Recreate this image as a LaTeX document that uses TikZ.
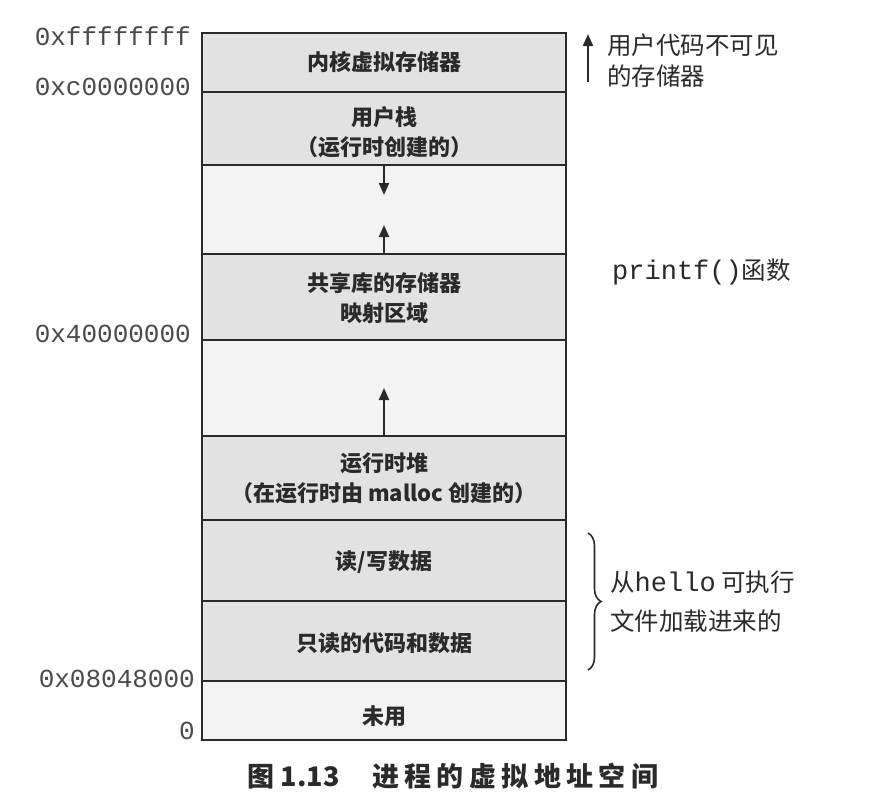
\documentclass[tikz,border=0pt]{standalone}
\usepackage{fontspec}
\setmainfont{Noto Sans CJK SC}
\setmonofont{Liberation Mono}
\usetikzlibrary{arrows.meta,decorations.pathreplacing}
\definecolor{boxfill}{HTML}{E2E2E2}
\definecolor{gapfill}{HTML}{F3F3F3}
\definecolor{ink}{HTML}{2A2A2A}
\tikzset{
  seg/.style={draw=ink,line width=2.8pt,fill=boxfill},
  gapseg/.style={draw=ink,line width=2.8pt,fill=gapfill},
  lbl/.style={inner sep=0pt,text=ink,font=\fontsize{22}{30}\selectfont\bfseries,align=center},
  addr/.style={inner sep=0pt,anchor=east,text=ink!85,font=\fontsize{26}{28}\selectfont\ttfamily},
  side/.style={inner sep=0pt,anchor=west,text=ink,font=\fontsize{24.5}{30}\selectfont},
  growarrow/.style={draw=ink,line width=2pt,-{Triangle[length=12pt,width=10pt]}}
}
\begin{document}
\begin{tikzpicture}[x=1pt,y=-1pt]
\useasboundingbox (0,0) rectangle (883,809);
\fill[white] (0,0) rectangle (883,809);
% regions
\draw[seg] (202,33) rectangle (566,92);
\draw[seg] (202,92) rectangle (566,165);
\draw[gapseg] (202,165) rectangle (566,254);
\draw[seg] (202,254) rectangle (566,340);
\draw[gapseg] (202,340) rectangle (566,436);
\draw[seg] (202,436) rectangle (566,520);
\draw[seg] (202,520) rectangle (566,601);
\draw[seg] (202,601) rectangle (566,681);
\draw[gapseg] (202,681) rectangle (566,740);
% boundary coordinates
\coordinate (stackbot) at (384,165);
\coordinate (stackdown) at (384,195);
\coordinate (libtop) at (384,254);
\coordinate (libup) at (384,225);
\coordinate (heaptop) at (384,436);
\coordinate (heapup) at (384,388);
% labels in boxes
\node[lbl] (kernel) at (384,62) {内核虚拟存储器};
\node[lbl] (stack) at (384,132) {用户栈\\（运行时创建的）};
\node[lbl] (shlib) at (384,298) {共享库的存储器\\映射区域};
\node[lbl] (heap) at (384,478) {运行时堆\\（在运行时由 malloc 创建的）};
\node[lbl] (rw) at (384,562) {读/写数据};
\node[lbl] (ro) at (384,643) {只读的代码和数据};
\node[lbl] (unused) at (384,716) {未用};
% growth arrows
\draw[growarrow] (stackbot) -- (stackdown);
\draw[growarrow] (libtop) -- (libup);
\draw[growarrow] (heaptop) -- (heapup);
% addresses
\node[addr] (a1) at (191,36) {0xffffffff};
\node[addr] (a2) at (191,87) {0xc0000000};
\node[addr] (a3) at (191,334) {0x40000000};
\node[addr] (a4) at (195,679) {0x08048000};
\node[addr] (a5) at (195,731) {0};
% right side
\coordinate (invbot) at (588,82);
\coordinate (invtop) at (588,34);
\draw[growarrow] (invbot) -- (invtop);
\node[side] (inv1) at (607,45) {用户代码不可见};
\node[side] (inv2) at (607,76) {的存储器};
\node[side,anchor=west] (printf) at (612,272) {{\ttfamily\fontsize{27}{30}\selectfont printf()}函数};
\coordinate (brtop) at (588,533);
\coordinate (brbot) at (588,670);
\draw[ink,line width=1.6pt,decorate,decoration={brace,amplitude=13pt}] (brtop) -- (brbot);
\node[side] (from1) at (610,582) {从{\ttfamily\fontsize{27}{30}\selectfont hello} 可执行};
\node[side] (from2) at (610,621) {文件加载进来的};
% caption
\node[inner sep=0pt,text=ink,font=\fontsize{27}{30}\selectfont\bfseries] (cap) at (453,776) {图 1.13\hspace{1.2em}{\addfontfeature{LetterSpace=20}进程的虚拟地址空间}};
\end{tikzpicture}
\end{document}
